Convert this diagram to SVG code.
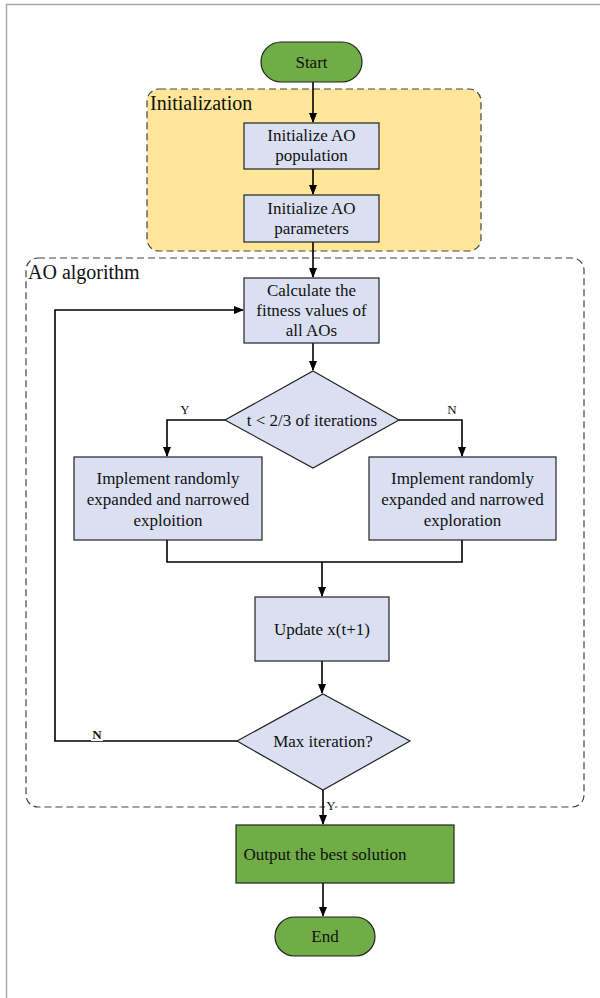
<svg xmlns="http://www.w3.org/2000/svg" width="600" height="998" viewBox="0 0 600 998" font-family="'Liberation Serif', 'DejaVu Serif', 'Times New Roman', serif">
<style>
text{font-family:'Liberation Serif','DejaVu Serif','Times New Roman',serif;fill:#111;}
.t{font-size:17px;text-anchor:middle;}
.lbl{font-size:20px;}
.yn{font-size:13px;text-anchor:middle;}
.box{fill:#DAE0F2;stroke:#222;stroke-width:1.2;}
.green{fill:#70AD47;stroke:#222;stroke-width:1.2;}
.c{fill:none;stroke:#000;stroke-width:1.6;}
.cont{stroke:#444;stroke-width:1.2;stroke-dasharray:7 4;}
</style>
<defs>
<marker id="ah" markerWidth="10" markerHeight="10" refX="9" refY="4" orient="auto" markerUnits="userSpaceOnUse">
<path d="M0,0 L10,4 L0,8 Z" fill="#000"/>
</marker>
</defs>
<rect x="0" y="0" width="600" height="998" fill="#fff"/>
<rect x="6.5" y="4.5" width="640" height="1040" fill="none" stroke="#aaa" stroke-width="1.5"/>

<g id="init-container">
<rect class="cont" x="147" y="89" width="334" height="162" rx="12" fill="#FFE699"/>
<text class="lbl" x="150" y="110">Initialization</text>
</g>
<g id="ao-container">
<rect class="cont" x="26" y="258" width="558" height="549" rx="12" fill="none"/>
<text class="lbl" x="28" y="279">AO algorithm</text>
</g>

<g id="connectors">
<path class="c" d="M313,82 V122" marker-end="url(#ah)"/>
<path class="c" d="M313,169 V194" marker-end="url(#ah)"/>
<path class="c" d="M313,242 V277" marker-end="url(#ah)"/>
<path class="c" d="M313,343 V370" marker-end="url(#ah)"/>
<path class="c" d="M225,420 H167 V456" marker-end="url(#ah)"/>
<path class="c" d="M399,420 H462 V456" marker-end="url(#ah)"/>
<path class="c" d="M167,540 V562 H462 V540"/>
<path class="c" d="M322,562 V596" marker-end="url(#ah)"/>
<path class="c" d="M322,661 V693" marker-end="url(#ah)"/>
<path class="c" d="M237,741 H55 V310 H243" marker-end="url(#ah)"/>
<path class="c" d="M323,790 V824" marker-end="url(#ah)"/>
<path class="c" d="M323,883 V916" marker-end="url(#ah)"/>
<text class="yn" x="185" y="414">Y</text>
<text class="yn" x="452" y="414">N</text>
<rect x="91" y="727" width="12" height="14" fill="#fff"/>
<text class="yn" x="97" y="739" font-weight="bold">N</text>
<rect x="325" y="798" width="10" height="13" fill="#fff"/>
<text class="yn" x="331" y="810">Y</text>
</g>

<g id="start">
<rect class="green" x="261" y="42" width="101" height="40" rx="20"/>
<text class="t" x="311.5" y="68">Start</text>
</g>
<g id="init-pop">
<rect class="box" x="244" y="123" width="135" height="46"/>
<text class="t" x="311.5" y="141">Initialize AO</text>
<text class="t" x="311.5" y="161">population</text>
</g>
<g id="init-param">
<rect class="box" x="244" y="195" width="135" height="47"/>
<text class="t" x="311.5" y="214">Initialize AO</text>
<text class="t" x="311.5" y="234">parameters</text>
</g>
<g id="fitness">
<rect class="box" x="244" y="278" width="135" height="65"/>
<text class="t" x="311.5" y="296">Calculate the</text>
<text class="t" x="311.5" y="316">fitness values of</text>
<text class="t" x="311.5" y="336">all AOs</text>
</g>
<g id="cond1">
<polygon class="box" points="313,371 399,420 313,468 225,420"/>
<text class="t" x="312" y="426">t &lt; 2/3 of iterations</text>
</g>
<g id="exploit">
<rect class="box" x="74" y="457" width="188" height="83"/>
<text class="t" x="168" y="484">Implement randomly</text>
<text class="t" x="168" y="505">expanded and narrowed</text>
<text class="t" x="168" y="526">exploition</text>
</g>
<g id="explore">
<rect class="box" x="369" y="457" width="187" height="83"/>
<text class="t" x="462.5" y="484">Implement randomly</text>
<text class="t" x="462.5" y="505">expanded and narrowed</text>
<text class="t" x="462.5" y="526">exploration</text>
</g>
<g id="update">
<rect class="box" x="255" y="597" width="134" height="64"/>
<text class="t" x="322" y="635">Update x(t+1)</text>
</g>
<g id="cond2">
<polygon class="box" points="323,694 410,741 323,790 237,741"/>
<text class="t" x="323" y="747">Max iteration?</text>
</g>
<g id="output">
<rect class="green" x="236" y="825" width="218" height="58"/>
<text class="t" x="325" y="860">Output the best solution</text>
</g>
<g id="end">
<rect class="green" x="275" y="917" width="100" height="39" rx="19.5"/>
<text class="t" x="325" y="942">End</text>
</g>
</svg>
